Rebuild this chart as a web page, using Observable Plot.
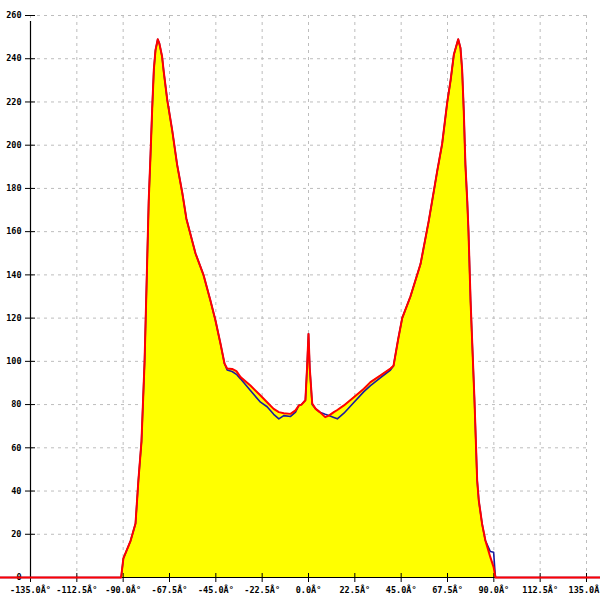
<!DOCTYPE html>
<html><head><meta charset="utf-8">
<script src="https://cdn.jsdelivr.net/npm/d3@7"></script>
<script src="https://cdn.jsdelivr.net/npm/@observablehq/plot@0.6"></script>
<style>html,body{margin:0;padding:0;background:#fff}svg{display:block}</style>
</head><body><div id="chart"></div>
<script>
const angles = [-150, -91, -89.9, -86.4, -84, -82.6, -81.1, -79.6, -78.7, -77.6, -76.7, -75.9, -75.1, -74.3, -73.2, -72.4, -71.1, -70.3, -68.6, -66.2, -63.8, -61.3, -59.3, -54.9, -51, -47.6, -45.2, -42.7, -40.8, -39.5, -37.1, -35, -33, -28.2, -23.3, -20.1, -16.9, -14.4, -12, -8.7, -6.3, -4.7, -3.4, -1.5, -0.7, 0, 0.6, 1.8, 3.5, 5.5, 8.1, 9.9, 12.3, 14, 17.2, 22, 26.9, 30.1, 35, 39.8, 41.3, 43.5, 45.5, 49.5, 54.4, 58.4, 60.9, 62.5, 64.9, 67.4, 69, 70.6, 72.7, 73.8, 74.6, 75.4, 76.2, 77.1, 77.7, 78.7, 80.6, 81.9, 82.7, 84.3, 85.9, 88.3, 89.9, 90.4, 90.8, 150];
const redValues = [0, 0, 8.8, 17, 25, 45, 63, 100, 133, 174, 196, 217, 235, 244, 249, 247, 241, 234, 221, 207, 191, 178, 166, 150, 140, 128, 119, 108, 99, 96.7, 96.5, 95.5, 92.7, 88.8, 84.2, 81.1, 78, 76.5, 76, 75.7, 77.3, 79.6, 80, 82, 97, 112.7, 97, 80.5, 78, 76.5, 74.2, 74.9, 76.5, 77.5, 79.6, 83.4, 87.3, 90.4, 93.5, 96.7, 98, 110, 120, 130, 145, 165, 179, 188, 200.6, 220, 230, 242, 249, 245, 235, 216, 191, 174, 160, 128, 82, 45, 35.6, 24.8, 17.1, 9.4, 4.8, 2, 0, 0];
const blueValues = [0, 0, 8.8, 17, 25, 45, 63, 100, 133, 174, 196, 217, 235, 244, 249, 247, 241, 234, 221, 207, 191, 178, 166, 150, 140, 128, 119, 108, 99, 96, 95.3, 94, 91.9, 86.5, 81.1, 79, 75.5, 73.4, 74.9, 74.5, 76.5, 79.6, 80, 82, 97, 112.7, 97, 80, 78, 76.5, 75.5, 74.9, 74, 73.4, 76, 81, 86, 88.8, 92.5, 96, 98, 110, 120, 130, 145, 165, 179, 188, 200.6, 220, 230, 242, 249, 245, 235, 216, 191, 174, 160, 128, 82, 45, 35.6, 24.8, 17.1, 12, 11.7, 4.8, 0, 0];
const xTicks = [-135, -112.5, -90, -67.5, -45, -22.5, 0, 22.5, 45, 67.5, 90, 112.5, 135];
const yTicks = [0, 20, 40, 60, 80, 100, 120, 140, 160, 180, 200, 220, 240, 260];

const red = angles.map((a, i) => ({a, v: redValues[i]}));
const blue = angles.map((a, i) => ({a, v: blueValues[i]}));

const chart = Plot.plot({
  width: 600, height: 600,
  marginLeft: 30, marginRight: 14, marginTop: 15, marginBottom: 23,
  style: {fontFamily: "DejaVu Sans Mono", fontSize: "8.5px", color: "#000", background: "#fff"},
  x: {domain: [-135, 135], label: null},
  y: {domain: [0, 260], label: null},
  marks: [
    Plot.gridX(xTicks, {stroke: "#bdbdbd", strokeOpacity: 1, strokeDasharray: "3,4"}),
    Plot.gridY(yTicks, {stroke: "#bdbdbd", strokeOpacity: 1, strokeDasharray: "3,4"}),
    Plot.areaY(red, {x: "a", y: "v", fill: "#ffff00"}),
    Plot.line(blue, {x: "a", y: "v", stroke: "#1a1aa0", strokeWidth: 1.6}),
    Plot.ruleY([0], {x1: -135, x2: 135, stroke: "#000", strokeWidth: 1}),
    Plot.ruleX([-135], {y1: 0, y2: 260, stroke: "#000", strokeWidth: 1.2, insetBottom: -6}),
    Plot.ruleX(xTicks, {x: d => d, y1: 0, y2: 0, insetTop: -4, insetBottom: -5, stroke: "#000"}),
    Plot.ruleY(yTicks, {y: d => d, x1: -135, x2: -135, insetLeft: -5, insetRight: -5, stroke: "#000"}),
    Plot.axisX(xTicks, {tickSize: 0, tickPadding: 9, label: null, tickFormat: d => d.toFixed(1) + "Â°", fill: "#000", fontWeight: "bold"}),
    Plot.axisY(yTicks, {tickSize: 0, tickPadding: 9, label: null, tickFormat: d => String(d), fill: "#000", fontWeight: "bold"}),
    Plot.line(red, {x: "a", y: "v", stroke: "#ff0000", strokeWidth: 2})
  ]
});
document.getElementById("chart").appendChild(chart);
</script>
</body></html>
